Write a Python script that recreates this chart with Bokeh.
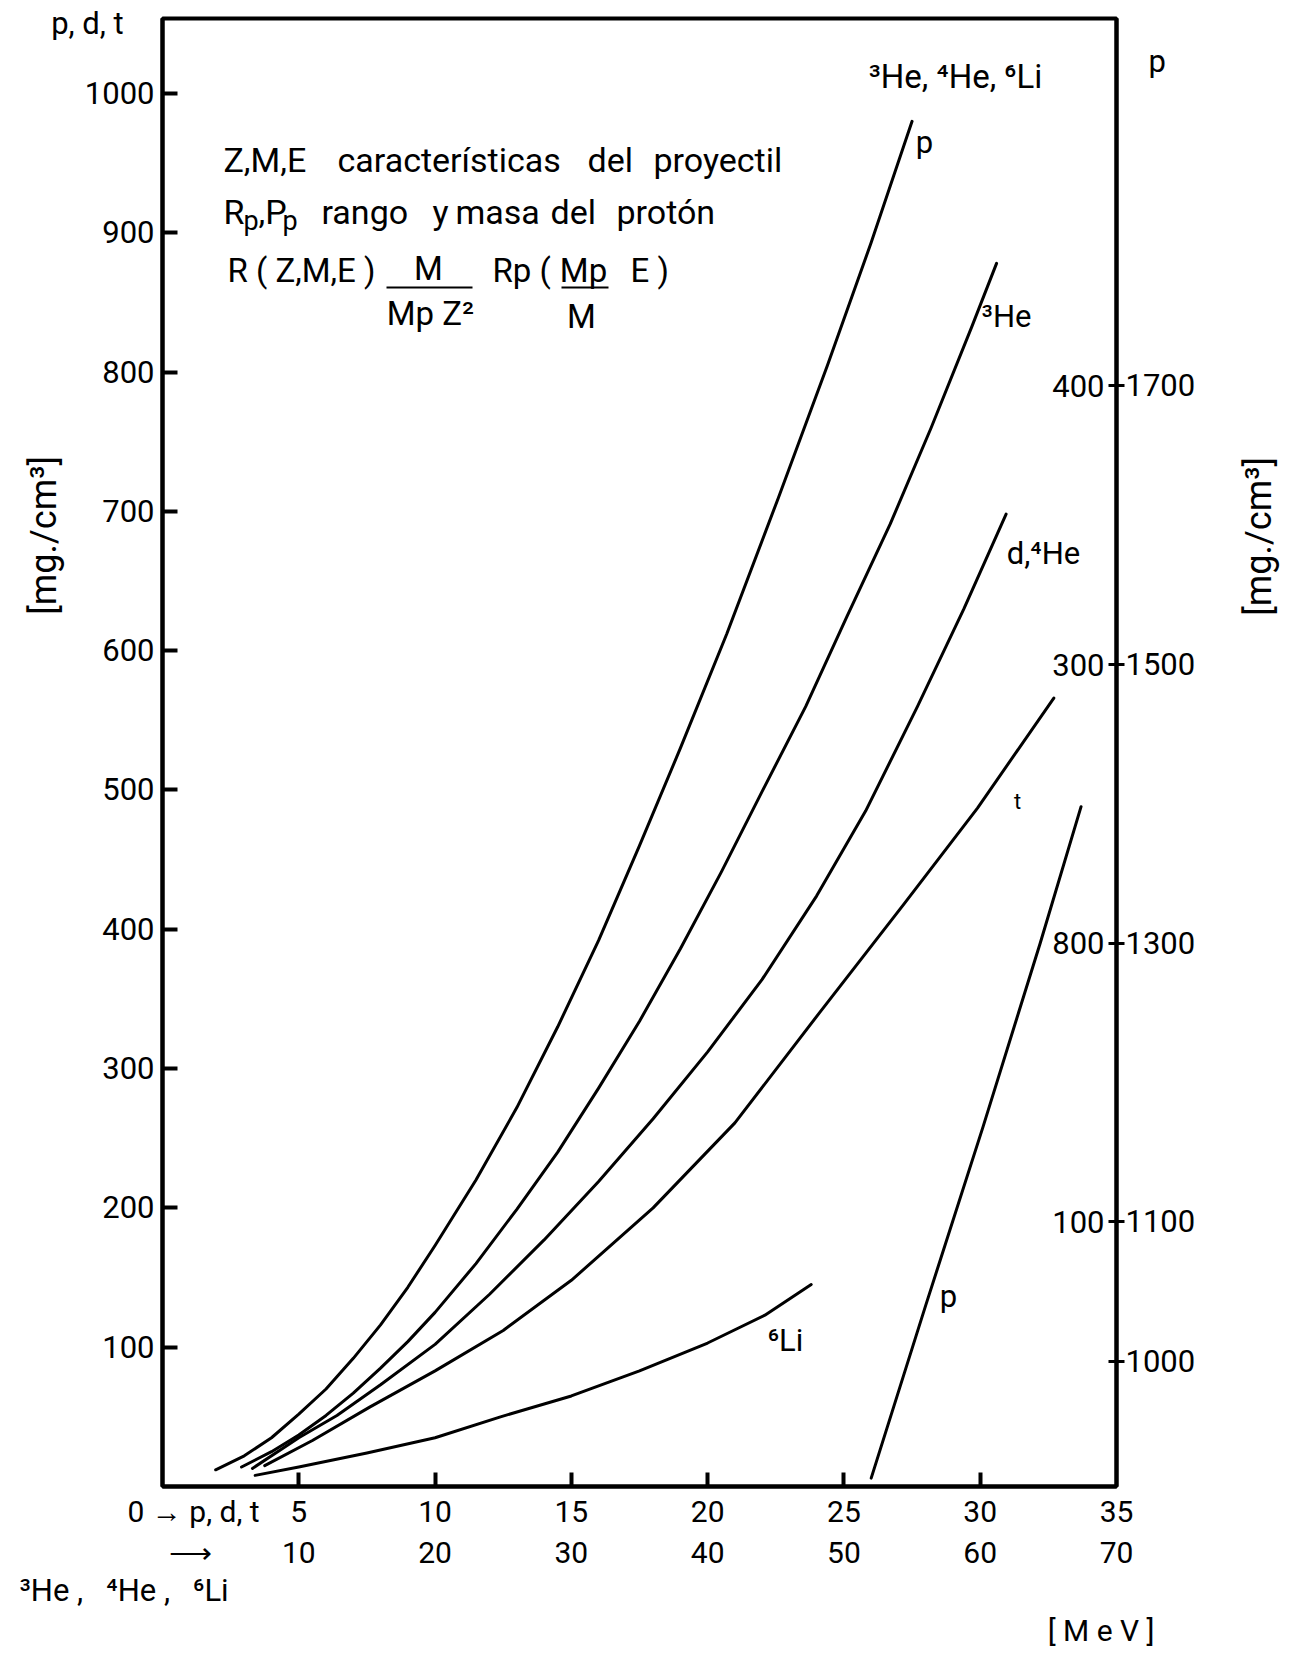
from math import pi
from bokeh.plotting import figure
from bokeh.models import LinearAxis, Range1d, FixedTicker, Label, Arrow, Title
from bokeh.embed import file_html
from bokeh.resources import INLINE

FONT = "Roboto"

# ---- data (energy in MeV on the p,d,t scale ; range in mg/cm^3) ----
p_E = [1.95, 3.0, 4.0, 5.0, 6.0, 7.0, 8.0, 9.0, 10.0, 11.5, 13.0, 14.5, 16.0, 17.5, 19.0, 20.7, 22.6, 24.4, 26.0, 27.5]
p_R = [12, 22, 35, 52, 70, 92, 116, 143, 173, 220, 272, 330, 392, 460, 530, 612, 710, 805, 893, 980]

he3_E = [2.9, 4.0, 5.0, 6.0, 7.0, 8.0, 9.0, 10.0, 11.5, 13.0, 14.5, 16.0, 17.5, 19.0, 20.5, 22.0, 23.6, 25.1, 26.7, 28.2, 29.7, 30.6]
he3_R = [14, 25, 37, 51, 67, 85, 104, 125, 160, 199, 240, 286, 334, 386, 441, 499, 560, 624, 691, 760, 833, 878]

d_E = [3.3, 5.0, 6.4, 8.0, 10.0, 12.0, 14.0, 16.0, 18.0, 20.0, 22.0, 24.0, 25.8, 27.7, 29.4, 30.95]
d_R = [13, 35, 51, 73, 102, 138, 177, 219, 264, 312, 364, 424, 485, 560, 630, 698]

t_E = [3.75, 5.5, 7.6, 10.0, 12.5, 15.0, 18.0, 21.0, 24.1, 27.2, 29.9, 32.7]
t_R = [15, 33, 57, 83, 112, 148, 200, 261, 340, 418, 487, 566]

li6_E = [3.4, 5.0, 7.5, 10.0, 12.4, 15.0, 17.5, 20.0, 22.1, 23.8]
li6_R = [8, 14, 24, 35, 50, 65, 83, 103, 123, 145]

# proton curve read on the right-hand scale
pr_E = [26.0, 28.0, 30.1, 32.2, 33.7]
pr_R = [916, 1040, 1168, 1300, 1398]

left_ticks = [100, 200, 300, 400, 500, 600, 700, 800, 900, 1000]
right_ticks = [1000, 1100, 1300, 1500, 1700]
right_inner = ["100", "800", "300", "400"]
right_inner_at = [1100, 1300, 1500, 1700]
x_ticks = [5, 10, 15, 20, 25, 30, 35]
x_labels_heavy = ["10", "20", "30", "40", "50", "60", "70"]

# ---- layout (canvas pixels) ----
W, H = 1304, 1653
FL, FR, FT, FB = 162, 1116, 18, 1486     # frame edges
XMAX = 35.0
YMAX = 1053.8
RSTART = 910.0

p = figure(width=W, height=H, x_range=Range1d(0, XMAX), y_range=Range1d(0, YMAX),
           output_backend="svg", toolbar_location=None,
           min_border_left=FL, min_border_right=W - FR,
           min_border_top=FT, min_border_bottom=H - FB)
p.extra_y_ranges = {"right": Range1d(RSTART, RSTART + YMAX)}
p.xgrid.visible = False
p.ygrid.visible = False
p.outline_line_color = "black"
p.outline_line_width = 4
p.background_fill_color = "white"
p.border_fill_color = "white"


def px(X, Y):
    """canvas pixel -> data units (used only to place annotations)"""
    return ((X - FL) * XMAX / (FR - FL), (FB - Y) * YMAX / (FB - FT))


def data_y(Y):
    return (FB - Y) * YMAX / (FB - FT)


def right_y(Y):
    return RSTART + data_y(Y)


def style_axis(ax, size="31px"):
    ax.axis_line_width = 4
    ax.axis_line_color = "black"
    ax.major_tick_line_color = None
    ax.major_tick_in = 0
    ax.major_tick_out = 0
    ax.minor_tick_line_color = "black"
    ax.minor_tick_line_width = 4
    ax.major_label_text_font = FONT
    ax.major_label_text_font_size = size
    ax.major_label_text_color = "black"


NB = "\u00a0"

# left axis (tick marks drawn as minor ticks so the header label gets none)
pdt_y = round(data_y(23), 1)
yl = p.yaxis[0]
style_axis(yl)
yl.ticker = FixedTicker(ticks=left_ticks + [pdt_y], minor_ticks=left_ticks)
yl.major_label_overrides = {pdt_y: "p, d, t" + NB * 4}
yl.minor_tick_in = 15
yl.minor_tick_out = 0
yl.major_label_standoff = 8

mg_l = round(data_y(535), 1)
yl2 = LinearAxis(ticker=FixedTicker(ticks=[mg_l], minor_ticks=[]),
                 major_label_overrides={mg_l: "[mg./cm³]"})
style_axis(yl2, "36px")
yl2.axis_line_color = None
yl2.minor_tick_line_color = None
yl2.major_label_orientation = "vertical"
yl2.major_label_standoff = -17
p.add_layout(yl2, "left")

# bottom axes (two label rows)
x0_lab = round(px(193, 0)[0], 2)
x0_arr = round(px(190, 0)[0], 2)
xb = p.xaxis[0]
style_axis(xb, "30px")
xb.ticker = FixedTicker(ticks=[x0_lab] + x_ticks, minor_ticks=x_ticks[:-1])
xb.major_label_overrides = {x0_lab: "0 → p, d, t"}
xb.minor_tick_in = 14
xb.minor_tick_out = 0
xb.major_label_standoff = 7

xb2 = LinearAxis(ticker=FixedTicker(ticks=[x0_arr] + x_ticks))
xb2.major_label_overrides = {x0_arr: "⟶", **{t: s for t, s in zip(x_ticks, x_labels_heavy)}}
style_axis(xb2, "30px")
xb2.axis_line_color = None
xb2.minor_tick_line_color = None
xb2.major_label_standoff = 3
p.add_layout(xb2, "below")

t1 = Title(text="³He" + NB + "," + NB * 3 + "⁴He" + NB + "," + NB * 3 + "⁶Li", align="left",
           offset=19 - FL, standoff=-6, text_font=FONT, text_font_size="31px",
           text_font_style="normal", text_color="black")
p.add_layout(t1, "below")
t2 = Title(text="[ M e V ]", align="right", offset=-(1154 - FR), standoff=10,
           text_font=FONT, text_font_size="30px", text_font_style="normal", text_color="black")
p.add_layout(t2, "below")

# right axis
p_head = round(right_y(61))
yr = LinearAxis(y_range_name="right",
                ticker=FixedTicker(ticks=right_ticks + [p_head], minor_ticks=right_ticks))
style_axis(yr)
yr.major_label_overrides = {p_head: NB * 3 + "p"}
yr.minor_tick_in = 8
yr.minor_tick_out = 8
yr.minor_tick_line_width = 3
yr.major_label_standoff = 1
p.add_layout(yr, "right")

mg_r = round(right_y(615))
yr2 = LinearAxis(y_range_name="right", ticker=FixedTicker(ticks=[mg_r], minor_ticks=[]),
                 major_label_overrides={mg_r: "[mg./cm³]"})
style_axis(yr2, "36px")
yr2.axis_line_color = None
yr2.minor_tick_line_color = None
yr2.major_label_orientation = pi / 2
yr2.major_label_standoff = 61
p.add_layout(yr2, "right")

# ---- curves ----
for xs, ys in [(p_E, p_R), (he3_E, he3_R), (d_E, d_R), (t_E, t_R), (li6_E, li6_R)]:
    p.line(xs, ys, line_width=3, line_color="black", line_cap="round", line_join="round")
p.line(pr_E, pr_R, y_range_name="right", line_width=3, line_color="black",
       line_cap="round", line_join="round")


# ---- texts inside the frame ----
def lab(X, Y, text, size="33px", align="left", baseline="middle", angle=0.0):
    x, y = px(X, Y)
    p.add_layout(Label(x=x, y=y, text=text, text_font=FONT, text_font_size=size,
                       text_align=align, text_baseline=baseline, angle=angle,
                       text_color="black"))


for v, s in zip(right_inner_at, right_inner):
    p.add_layout(Label(x=XMAX, y=v, y_range_name="right", text=s, x_offset=-12,
                       text_font=FONT, text_font_size="31px", text_align="right",
                       text_baseline="middle", text_color="black"))

# curve labels
lab(924, 142, "p", size="31px", align="center")
lab(1006, 316, "³He", size="31px", align="center")
lab(1043, 553, "d,⁴He", size="31px", align="center")
lab(1017, 801, "t", size="22px", align="center")
lab(785, 1340, "⁶Li", size="31px", align="center")
lab(948, 1296, "p", size="31px", align="center")
lab(955, 76, "³He," + NB + "⁴He," + NB + "⁶Li", size="33px", align="center")

# explanatory block
for X, w in [(223, "Z,M,E"), (337, "características"), (587, "del"), (653, "proyectil")]:
    lab(X, 159, w, size="34px")
lab(223, 211, "R", size="34px")
lab(243, 220, "p", size="27px")
lab(258, 211, ",P", size="34px")
lab(282, 220, "p", size="27px")
for X, w in [(321, "rango"), (432, "y"), (455, "masa"), (550, "del"), (616, "protón")]:
    lab(X, 211, w, size="34px")
lab(227, 270, "R ( Z,M,E )")
lab(428, 268, "M", align="center")
lab(430, 313, "Mp Z²", align="center")
lab(492, 270, "Rp (")
lab(583, 270, "Mp", align="center")
lab(581, 316, "M", align="center")
lab(630, 270, "E )")
for (xa, xc) in [(386, 472), (561, 608)]:
    a, b = px(xa, 287)
    c, _ = px(xc, 287)
    p.add_layout(Arrow(x_start=a, y_start=b, x_end=c, y_end=b, line_width=2, end=None))

open("out.html", "w").write(file_html(p, INLINE))
